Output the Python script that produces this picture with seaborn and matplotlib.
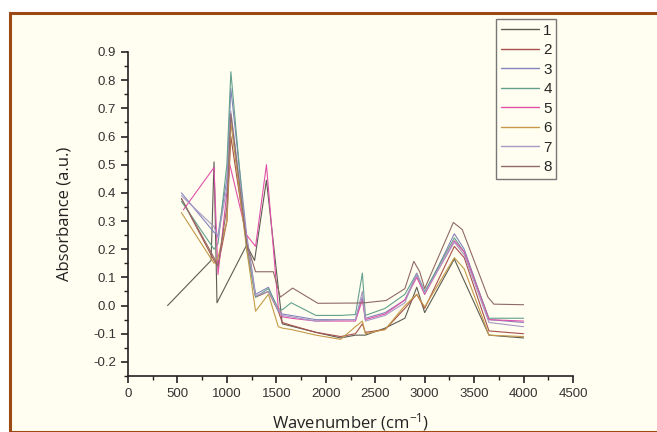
import matplotlib
matplotlib.use("Agg")
import matplotlib.pyplot as plt
import seaborn as sns
import pandas as pd
from matplotlib.patches import Rectangle
from matplotlib.ticker import MultipleLocator, FormatStrFormatter

# ---- data ----
x_common = [540, 870, 910, 1000, 1040, 1200, 1290, 1420, 1520, 1560, 1650, 1900,
            2150, 2300, 2370, 2400, 2600, 2800, 2920, 3000, 3300, 3400, 3650, 4000]

x1 = [400, 840, 870, 900, 1200, 1280, 1400, 1560, 1900, 2150, 2300, 2400, 2600,
      2800, 2920, 3000, 3300, 3650, 4000]
y1 = [0.0, 0.16, 0.51, 0.01, 0.215, 0.16, 0.445, -0.065, -0.095, -0.115, -0.105,
      -0.105, -0.08, -0.045, 0.065, -0.025, 0.165, -0.105, -0.115]

x2 = x_common
y2 = [0.38, 0.16, 0.14, 0.30, 0.60, 0.22, 0.03, 0.05, -0.02, -0.06, -0.07, -0.095,
      -0.11, -0.10, -0.065, -0.095, -0.085, -0.01, 0.04, -0.01, 0.21, 0.17, -0.09, -0.10]

x3 = x_common
y3 = [0.40, 0.26, 0.25, 0.45, 0.77, 0.25, 0.04, 0.065, -0.02, -0.03, -0.035, -0.05,
      -0.05, -0.05, 0.03, -0.045, -0.025, 0.02, 0.11, 0.04, 0.255, 0.20, -0.05, -0.06]

x4 = x_common
y4 = [0.37, 0.20, 0.22, 0.50, 0.83, 0.20, 0.03, 0.06, -0.01, -0.015, 0.01, -0.035,
      -0.035, -0.032, 0.115, -0.035, -0.01, 0.04, 0.115, 0.05, 0.24, 0.19, -0.045, -0.045]

x5 = [560, 870, 910, 1030, 1200, 1290, 1400, 1520, 1560, 1650, 1900, 2150, 2300,
      2370, 2400, 2600, 2800, 2920, 3000, 3300, 3400, 3650, 4000]
y5 = [0.34, 0.49, 0.11, 0.50, 0.25, 0.21, 0.50, -0.01, -0.04, -0.045, -0.055, -0.055,
      -0.055, 0.02, -0.05, -0.03, 0.02, 0.10, 0.04, 0.23, 0.19, -0.05, -0.055]

x6 = x_common
y6 = [0.33, 0.15, 0.17, 0.30, 0.65, 0.20, -0.02, 0.04, -0.075, -0.08, -0.085, -0.105,
      -0.12, -0.075, -0.055, -0.10, -0.085, 0.0, 0.04, -0.005, 0.17, 0.13, -0.105, -0.11]

x7 = x_common
y7 = [0.39, 0.28, 0.24, 0.42, 0.69, 0.24, 0.035, 0.05, -0.015, -0.035, -0.04, -0.055,
      -0.05, -0.05, 0.05, -0.055, -0.035, 0.01, 0.115, 0.045, 0.225, 0.18, -0.06, -0.075]

x8 = [540, 870, 910, 1000, 1040, 1200, 1290, 1470, 1540, 1665, 1920, 2310, 2400,
      2610, 2800, 2890, 2950, 3000, 3290, 3380, 3640, 3700, 4000]
y8 = [0.38, 0.17, 0.14, 0.35, 0.68, 0.22, 0.12, 0.12, 0.03, 0.062, 0.008, 0.009,
      0.01, 0.018, 0.06, 0.157, 0.12, 0.06, 0.295, 0.27, 0.03, 0.005, 0.003]

series_labels = ["1", "2", "3", "4", "5", "6", "7", "8"]
series_colors = ["#5c5c52", "#a8504c", "#8484bc", "#63a08e", "#e052aa",
                 "#c49a4a", "#a898c4", "#8f6a66"]

xs = [x1, x2, x3, x4, x5, x6, x7, x8]
ys = [y1, y2, y3, y4, y5, y6, y7, y8]

rows = []
for lab, xx, yy in zip(series_labels, xs, ys):
    for a, b in zip(xx, yy):
        rows.append({"wn": a, "abs": b, "series": lab})
df = pd.DataFrame(rows)

# ---- figure ----
sns.set_theme(style="ticks")
plt.rcParams["axes.unicode_minus"] = False
plt.rcParams["font.family"] = ["Liberation Sans", "DejaVu Sans"]
plt.rcParams["mathtext.default"] = "regular"

cream = "#FFFEF0"
fig = plt.figure(figsize=(6.57, 4.32), dpi=100, facecolor="white")
fig.patches.append(Rectangle((10 / 657, 0), 1.0, 1 - 13 / 432, transform=fig.transFigure,
                             facecolor=cream, edgecolor="#9a4a12", linewidth=2.2,
                             zorder=-10))
ax = fig.add_axes([128 / 657, 1 - 376 / 432, 445 / 657, 324 / 432])
ax.set_facecolor(cream)
ax.patch.set_alpha(0)

sns.lineplot(data=df, x="wn", y="abs", hue="series", palette=series_colors,
             hue_order=series_labels, estimator=None, sort=True, linewidth=0.8,
             ax=ax, legend=False)

ax.set_xlim(0, 4500)
ax.set_ylim(-0.25, 0.9)
ax.xaxis.set_major_locator(MultipleLocator(500))
ax.xaxis.set_minor_locator(MultipleLocator(250))
ax.yaxis.set_major_locator(MultipleLocator(0.1))
ax.yaxis.set_minor_locator(MultipleLocator(0.05))
ax.yaxis.set_major_formatter(FormatStrFormatter("%.1f"))
for s in ["top", "right"]:
    ax.spines[s].set_visible(False)
for s in ["left", "bottom"]:
    ax.spines[s].set_linewidth(1.2)
    ax.spines[s].set_color("#222222")
ax.tick_params(which="major", direction="out", length=5, width=1.2, labelsize=9.5,
               colors="#222222", labelcolor="#333333")
ax.tick_params(which="minor", direction="out", length=3, width=1.0, colors="#222222")

ax.set_xlabel("Wavenumber (cm$^{-1}$)", fontsize=12, family="Open Sans",
              color="#222222", labelpad=8)
ax.set_ylabel("Absorbance (a.u.)", fontsize=12, family="Open Sans",
              color="#222222", labelpad=15)

handles = [plt.Line2D([], [], color=c, linewidth=1.0) for c in series_colors]
leg = fig.legend(handles, series_labels, loc="upper left",
                 bbox_to_anchor=(496 / 657, 1 - 19 / 432), frameon=True,
                 fancybox=False, edgecolor="#777777", facecolor=cream,
                 fontsize=11, handlelength=2.5, labelspacing=0.36,
                 borderpad=0.3, handletextpad=0.3, borderaxespad=0)
leg.get_frame().set_linewidth(1.0)
leg.get_frame().set_alpha(1)

fig.savefig("out.png", dpi=100, facecolor="white")
